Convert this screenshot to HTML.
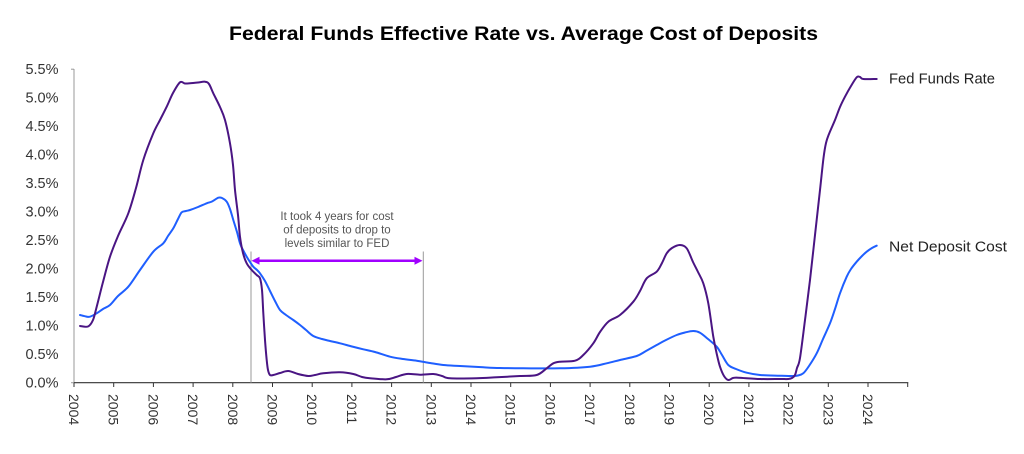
<!DOCTYPE html>
<html>
<head>
<meta charset="utf-8">
<style>
html,body{margin:0;padding:0;background:#fff;}
svg{display:block;}
text{font-family:"Liberation Sans",Arial,sans-serif;}
</style>
</head>
<body>
<svg width="1024" height="454" viewBox="0 0 1024 454" xmlns="http://www.w3.org/2000/svg">
<rect width="1024" height="454" fill="#fff"/>
<text x="523.5" y="40" text-anchor="middle" font-size="19" font-weight="bold" fill="#000" textLength="589" lengthAdjust="spacingAndGlyphs">Federal Funds Effective Rate vs. Average Cost of Deposits</text>

<!-- y axis labels -->
<g font-size="14.5" fill="#333" text-anchor="end">
<text x="58.5" y="387.7">0.0%</text>
<text x="58.5" y="359.2">0.5%</text>
<text x="58.5" y="330.7">1.0%</text>
<text x="58.5" y="302.2">1.5%</text>
<text x="58.5" y="273.7">2.0%</text>
<text x="58.5" y="245.2">2.5%</text>
<text x="58.5" y="216.7">3.0%</text>
<text x="58.5" y="188.2">3.5%</text>
<text x="58.5" y="159.7">4.0%</text>
<text x="58.5" y="131.2">4.5%</text>
<text x="58.5" y="102.7">5.0%</text>
<text x="58.5" y="74.2">5.5%</text>
</g>
<!-- y axis line -->
<line x1="74" y1="69" x2="74" y2="383" stroke="#999" stroke-width="1"/>
<g stroke="#999" stroke-width="1">
<line x1="71" y1="69.2" x2="74" y2="69.2"/>
<line x1="71" y1="382.7" x2="74" y2="382.7"/>
</g>
<!-- x axis -->
<line x1="74" y1="382.7" x2="908.3" y2="382.7" stroke="#333" stroke-width="1.2"/>
<g stroke="#333" stroke-width="1">
<line x1="74" y1="382.7" x2="74" y2="387"/>
<line x1="113.7" y1="382.7" x2="113.7" y2="387"/>
<line x1="153.4" y1="382.7" x2="153.4" y2="387"/>
<line x1="193.1" y1="382.7" x2="193.1" y2="387"/>
<line x1="232.8" y1="382.7" x2="232.8" y2="387"/>
<line x1="272.5" y1="382.7" x2="272.5" y2="387"/>
<line x1="312.2" y1="382.7" x2="312.2" y2="387"/>
<line x1="351.9" y1="382.7" x2="351.9" y2="387"/>
<line x1="391.6" y1="382.7" x2="391.6" y2="387"/>
<line x1="431.3" y1="382.7" x2="431.3" y2="387"/>
<line x1="471" y1="382.7" x2="471" y2="387"/>
<line x1="510.7" y1="382.7" x2="510.7" y2="387"/>
<line x1="550.4" y1="382.7" x2="550.4" y2="387"/>
<line x1="590.1" y1="382.7" x2="590.1" y2="387"/>
<line x1="629.8" y1="382.7" x2="629.8" y2="387"/>
<line x1="669.5" y1="382.7" x2="669.5" y2="387"/>
<line x1="709.2" y1="382.7" x2="709.2" y2="387"/>
<line x1="748.9" y1="382.7" x2="748.9" y2="387"/>
<line x1="788.6" y1="382.7" x2="788.6" y2="387"/>
<line x1="828.3" y1="382.7" x2="828.3" y2="387"/>
<line x1="868" y1="382.7" x2="868" y2="387"/>
<line x1="907.7" y1="382.7" x2="907.7" y2="387"/>
</g>
<g font-size="14" fill="#333">
<text transform="translate(74,394) rotate(90)" dy="0.36em">2004</text>
<text transform="translate(113.7,394) rotate(90)" dy="0.36em">2005</text>
<text transform="translate(153.4,394) rotate(90)" dy="0.36em">2006</text>
<text transform="translate(193.1,394) rotate(90)" dy="0.36em">2007</text>
<text transform="translate(232.8,394) rotate(90)" dy="0.36em">2008</text>
<text transform="translate(272.5,394) rotate(90)" dy="0.36em">2009</text>
<text transform="translate(312.2,394) rotate(90)" dy="0.36em">2010</text>
<text transform="translate(351.9,394) rotate(90)" dy="0.36em">2011</text>
<text transform="translate(391.6,394) rotate(90)" dy="0.36em">2012</text>
<text transform="translate(431.3,394) rotate(90)" dy="0.36em">2013</text>
<text transform="translate(471,394) rotate(90)" dy="0.36em">2014</text>
<text transform="translate(510.7,394) rotate(90)" dy="0.36em">2015</text>
<text transform="translate(550.4,394) rotate(90)" dy="0.36em">2016</text>
<text transform="translate(590.1,394) rotate(90)" dy="0.36em">2017</text>
<text transform="translate(629.8,394) rotate(90)" dy="0.36em">2018</text>
<text transform="translate(669.5,394) rotate(90)" dy="0.36em">2019</text>
<text transform="translate(709.2,394) rotate(90)" dy="0.36em">2020</text>
<text transform="translate(748.9,394) rotate(90)" dy="0.36em">2021</text>
<text transform="translate(788.6,394) rotate(90)" dy="0.36em">2022</text>
<text transform="translate(828.3,394) rotate(90)" dy="0.36em">2023</text>
<text transform="translate(868,394) rotate(90)" dy="0.36em">2024</text>
</g>

<!-- annotation -->
<line x1="251" y1="251.5" x2="251" y2="382.7" stroke="#999" stroke-width="1"/>
<line x1="423.3" y1="251.5" x2="423.3" y2="382.7" stroke="#999" stroke-width="1"/>
<line x1="257" y1="260.7" x2="417" y2="260.7" stroke="#a000ff" stroke-width="2.5"/>
<polygon points="251.5,260.7 259.5,256.7 259.5,264.7" fill="#a000ff"/>
<polygon points="422.5,260.7 414.5,256.7 414.5,264.7" fill="#a000ff"/>
<g font-size="11.5" fill="#555" text-anchor="middle">
<text x="337" y="219.8">It took 4 years for cost</text>
<text x="337" y="233.3">of deposits to drop to</text>
<text x="337" y="246.8">levels similar to FED</text>
</g>

<!-- series -->
<polyline id="blue" class="ser" fill="none" stroke="#1f5fff" stroke-width="2" stroke-linejoin="round" stroke-linecap="round" points="80,315 86,316.5 90,316.7 96.7,313.3 103,309 110,305 118,296 128.3,286.7 140,270 153.3,251.7 163.3,243.3 168,236 173.3,228.3 178,219 181.7,212.3 186,211 190,210 198,207 206.7,203.3 212,201.5 218.3,197.7 222,198 226.7,201.7 230,209 233.3,220 237,232 240,243.3 243,250 246.7,256.7 250,262 253.3,266.7 257,270 260,273.3 265,281 270,291 275,301 280,310 286,315 293.3,320 300,325 306,330 313.3,336 322,339 330,341 340,343.3 352,346.5 363.3,349.3 375,352 390,356.7 403,359 416.7,360.7 430,363 443.3,365 460,366 483.3,367.3 500,368 523.3,368.3 560,368.3 590,366.7 606.7,363.3 620,360 636.7,356 646,351 656.7,345 666,340 676.7,335 685,332.5 693.3,331 700,332.7 708,339 716.7,346.7 722,355 728.3,365 736,369 746.7,372.7 760,375 780,375.7 793.3,376 798,375.5 803.3,373.3 809,366 816.7,353.3 823,339 830,323.3 835,309 840,293.3 846.7,276.7 851,269 856.7,261.7 862,256 866.7,251.7 872,248 876.7,245.7"/>
<polyline id="purple" class="ser" fill="none" stroke="#4a1583" stroke-width="2" stroke-linejoin="round" stroke-linecap="round" points="80,326 88,326.5 93,320 96.7,306.7 103,282 110,256.7 118,236 128.3,213.3 136,188 143.3,160 153.3,133.3 160,120 166.7,106.7 173,93 180,82.3 185,83.5 190,83.3 198,82.5 205,81.7 209,84 213.3,93.3 220,107 225,120 230,143.3 233,165 235,190 238,215 240,236.7 243,253 246.7,263.3 251.7,270 256.7,275 260,278.3 262,290 263.3,313 265,340 266.7,360 268,370 270,375 273.3,375 280,373 288.3,371 298,374 308.3,376 315,375 323.3,373.3 340,372.3 353.3,374 362,377 370,378.3 386.7,379.3 396,377 406.7,374 420,374.7 433.3,374 442,376 450,378.3 476.7,378.3 496.7,377.3 520,376 536.7,375 546.7,368.3 553.3,363.3 560,361.7 575,360.7 583.3,355 593.3,343.3 600,332 608.3,321.7 620,315 633.3,301.7 640,291 646.7,278.3 656.7,271.7 662,263 666.7,253.3 672,248 680,245 686.7,248.3 693,262 698,272 703.3,283.3 708.3,303.3 713.3,336.7 717,355 720,366.7 724,376 728.3,380 733,378 738.3,377.7 760,379 780,379 788.3,379 792,378 795,375 797,368 800,358 805,320 810,280 815,235 820,190 823.5,158 826,143 829,134 835,120 840,107 845,96.7 851,86 856.7,77.3 860,77 863.3,79 876.7,79"/>

<!-- legend labels -->
<text x="889" y="83.5" font-size="15" fill="#222" textLength="106" lengthAdjust="spacingAndGlyphs">Fed Funds Rate</text>
<text x="889" y="251.5" font-size="15" fill="#222" textLength="118" lengthAdjust="spacingAndGlyphs">Net Deposit Cost</text>
</svg>
<script>
(function(){
  var NS="http://www.w3.org/2000/svg";
  var els=document.querySelectorAll("polyline.ser");
  for(var k=0;k<els.length;k++){
    var pl=els[k];
    var raw=pl.getAttribute("points").trim().split(/\s+/);
    var p=raw.map(function(s){var a=s.split(",");return [parseFloat(a[0]),parseFloat(a[1])];});
    var d="M"+p[0][0]+","+p[0][1];
    for(var i=0;i<p.length-1;i++){
      var p0=p[i>0?i-1:i],p1=p[i],p2=p[i+1],p3=p[i+2<p.length?i+2:i+1];
      var c1x=p1[0]+(p2[0]-p0[0])/6,c1y=p1[1]+(p2[1]-p0[1])/6;
      var c2x=p2[0]-(p3[0]-p1[0])/6,c2y=p2[1]-(p3[1]-p1[1])/6;
      d+=" C"+c1x.toFixed(2)+","+c1y.toFixed(2)+" "+c2x.toFixed(2)+","+c2y.toFixed(2)+" "+p2[0]+","+p2[1];
    }
    var path=document.createElementNS(NS,"path");
    path.setAttribute("d",d);
    ["fill","stroke","stroke-width","stroke-linejoin","stroke-linecap"].forEach(function(a){path.setAttribute(a,pl.getAttribute(a));});
    pl.parentNode.insertBefore(path,pl);
    pl.parentNode.removeChild(pl);
  }
})();
</script>
</body>
</html>
